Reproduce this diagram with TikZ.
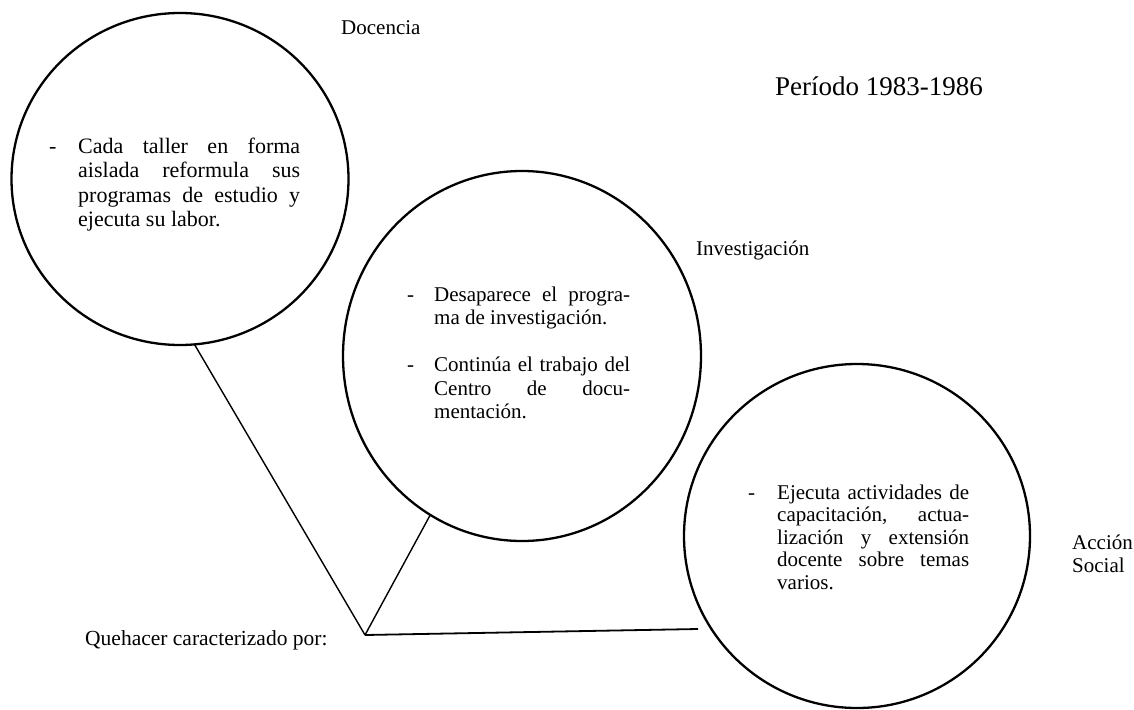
\documentclass[tikz,border=0pt]{standalone}
\usepackage{fontspec}
\setmainfont{Liberation Serif}
\usetikzlibrary{shapes.geometric}
\begin{document}
\begin{tikzpicture}[x=1pt,y=-1pt,
  bubble/.style={draw=black, line width=2.3pt, ellipse, inner sep=0pt, outer sep=0pt},
  lbl/.style={anchor=west, inner sep=0pt, font=\fontsize{21}{23}\selectfont, align=left},
  body/.style={anchor=base west, inner sep=0pt},
  link/.style={draw=black, line width=1.4pt}]
\useasboundingbox (0,0) rectangle (1134,709);

% circles
\node[bubble, minimum width=337pt, minimum height=332pt] (c1) at (180,179) {};
\node[bubble, minimum width=358pt, minimum height=370pt] (c2) at (522,356) {};
\node[bubble, minimum width=346pt, minimum height=344pt] (c3) at (857,536) {};

% labels
\node[lbl] (docencia) at (341,28) {Docencia};
\node[lbl, font=\fontsize{27}{30}\selectfont] (periodo) at (775,86) {Período 1983-1986};
\node[lbl] (investigacion) at (696,250) {Investigación};
\node[lbl] (accion) at (1072,554) {Acción\\Social};
\node[lbl, font=\fontsize{21.5}{24}\selectfont] (quehacer) at (85,640) {Quehacer caracterizado por:};

% texts inside circles
\node[body] (t1) at (78,153) {\vtop{\fontsize{22}{24.5}\selectfont
  \hbox{\llap{\makebox[29pt][l]{-}}\makebox[222pt][s]{Cada taller en forma}}
  \hbox{\makebox[222pt][s]{aislada reformula sus}}
  \hbox{\makebox[222pt][s]{programas de estudio y}}
  \hbox{\makebox[222pt][l]{ejecuta su labor.}}}};

\node[body] (t2) at (434,301) {\vtop{\fontsize{21}{23.5}\selectfont
  \hbox{\llap{\makebox[27pt][l]{-}}\makebox[196pt][s]{Desaparece el progra-}}
  \hbox{\makebox[196pt][l]{ma de investigación.}}
  \vskip 23.5pt
  \hbox{\llap{\makebox[27pt][l]{-}}\makebox[196pt][s]{Continúa el trabajo del}}
  \hbox{\makebox[196pt][s]{Centro de docu-}}
  \hbox{\makebox[196pt][l]{mentación.}}}};

\node[body] (t3) at (777,499) {\vtop{\fontsize{21}{22.5}\selectfont
  \hbox{\llap{\makebox[29pt][l]{-}}\makebox[192pt][s]{Ejecuta actividades de}}
  \hbox{\makebox[192pt][s]{capacitación, actua-}}
  \hbox{\makebox[192pt][s]{lización y extensión}}
  \hbox{\makebox[192pt][s]{docente sobre temas}}
  \hbox{\makebox[192pt][l]{varios.}}}};

% connectors
\coordinate (V) at (365,635);
\coordinate (E3) at (698,629);
\draw[link] (V) -- (c1.275);
\draw[link] (V) -- (c2.240);
\draw[link, line width=1.8pt] (V) -- (E3);
\end{tikzpicture}
\end{document}
